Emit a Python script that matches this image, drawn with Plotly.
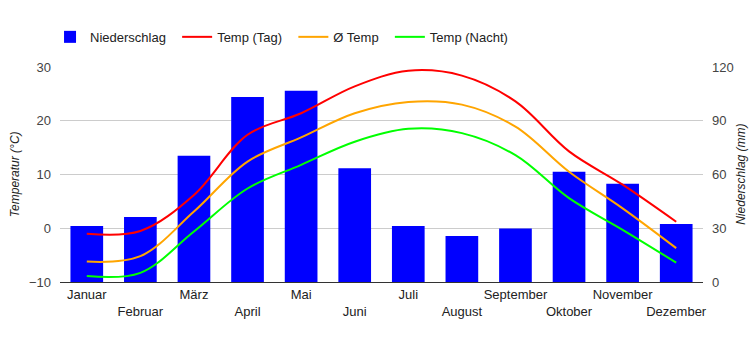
import plotly.graph_objects as go

months = ["Januar", "Februar", "März", "April", "Mai", "Juni", "Juli",
          "August", "September", "Oktober", "November", "Dezember"]
precip = [31.3, 36.3, 70.4, 103.3, 106.7, 63.5, 31.3, 25.7, 29.8, 61.5, 54.8, 32.4]
temp_day = [-1.0, -0.5, 6.2, 17.4, 21.4, 26.4, 29.3, 28.4, 23.6, 14.3, 8.1, 1.2]
temp_avg = [-6.2, -5.2, 3.1, 12.4, 16.9, 21.4, 23.5, 23.0, 18.9, 10.5, 3.7, -3.7]
temp_night = [-8.9, -8.3, -0.6, 7.4, 11.8, 16.1, 18.5, 17.7, 13.6, 5.6, -0.3, -6.4]

tick_text = [m if i % 2 == 0 else "<br>" + m for i, m in enumerate(months)]
pad = "\u00a0\u2009"

fig = go.Figure()
fig.add_trace(go.Bar(x=months, y=precip, name="Niederschlag" + pad, marker_color="#0000ff",
                     marker_line_width=0, yaxis="y"))
for name, vals, col in [("Temp (Tag)", temp_day, "#ff0000"),
                        ("Ø Temp", temp_avg, "#ffa500"),
                        ("Temp (Nacht)", temp_night, "#00ff00")]:
    fig.add_trace(go.Scatter(x=months, y=vals, name=name + pad, mode="lines",
                             line=dict(color=col, width=2, shape="spline", smoothing=1.0),
                             yaxis="y2"))

font = dict(family="Liberation Sans, Arial, sans-serif", size=13, color="#222222")

fig.update_layout(
    width=750, height=350,
    margin=dict(l=60, r=47, t=67, b=68, autoexpand=False),
    paper_bgcolor="white", plot_bgcolor="white",
    font=font,
    bargap=0.39,
    showlegend=True,
    legend=dict(orientation="h", x=-0.0155, xanchor="left", y=1.14, yanchor="middle",
                font=dict(size=13, color="#222222"), itemwidth=30,
                bgcolor="rgba(0,0,0,0)"),
    xaxis=dict(tickmode="array", tickvals=months, ticktext=tick_text, tickangle=0,
               automargin=False,
               showgrid=False, showline=True, linecolor="#333333", linewidth=1,
               ticks="", tickfont=font),
    yaxis=dict(side="right", range=[0, 120], tickvals=[0, 30, 60, 90, 120],
               automargin=False,
               showgrid=True, gridcolor="#cccccc", zeroline=False, ticks="",
               tickfont=dict(size=13, color="#444444"), ticklabelstandoff=8),
    yaxis2=dict(side="left", overlaying="y", range=[-10, 30], automargin=False,
                tickvals=[-10, 0, 10, 20, 30], showgrid=False, zeroline=False, ticks="",
                tickfont=dict(size=13, color="#444444"), ticklabelstandoff=8),
    annotations=[
        dict(text="<i>Temperatur (°C)</i>", xref="paper", yref="paper", x=-0.0705,
             xanchor="center", y=0.5, yanchor="middle", textangle=-90, showarrow=False,
             font=dict(size=12, color="#222222")),
        dict(text="<i>Niederschlag (mm)</i>", xref="paper", yref="paper", x=1.058,
             xanchor="center", y=0.5, yanchor="middle", textangle=-90, showarrow=False,
             font=dict(size=12, color="#222222")),
    ],
)

fig.write_html("out.html")
